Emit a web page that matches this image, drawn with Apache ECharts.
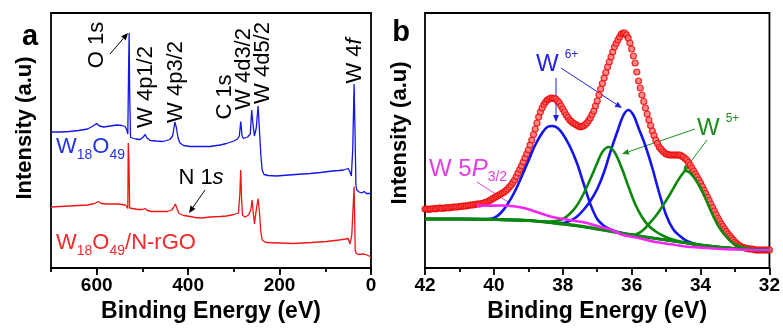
<!DOCTYPE html>
<html>
<head>
<meta charset="utf-8">
<script src="https://cdn.jsdelivr.net/npm/echarts@6/dist/echarts.min.js"></script>
<style>
  html, body { margin: 0; padding: 0; background: #fff; }
  #chart { width: 783px; height: 329px; }
</style>
</head>
<body>
<div id="chart"></div>
<script>
// ---- panel a : survey spectra, [binding energy (eV), intensity (a.u.)] ----
const surveyW18O49 = [
  [700,136],[680,136],[660,136.5],[640,137.5],[620,139],[608,142],[600,144.5],[594,142],
  [585,141],[570,142],[556,143],[545,142.5],[538,141.5],[534,138],[532,134],[530,208],
  [529,235],[528,178],[526,130.5],[515,129],[505,128.5],[498,131],[494,133.5],[490,130],
  [483,127.5],[470,127],[455,126.5],[440,128.5],[434,132],[431,140],[429,146],[426,141],
  [422,130],[418,125],[410,122.5],[396,121.5],[370,121.5],[352,121.5],[330,123],[316,124.5],
  [300,127],[292,129],[288,132],[285,146.5],[282,132],[279,129.5],[270,131],[264,134],
  [261,158],[258,143],[255,132],[251,140],[247,162],[244,138],[241,113],[238,98],
  [234,93.5],[225,92.5],[206,92],[180,93],[150,94],[133,94.5],[110,95.5],[85,97],
  [70,97.5],[60,98],[50,99.5],[46,96],[43,92],[40,118],[37,184],[35,138],
  [33,83],[31,78],[26,76],[20,75],[15,76.5],[10,74.5],[6,73],[2,74.5],[0,74]
];
const surveyComposite = [
  [700,61],[680,61.5],[660,62],[640,62.5],[620,63],[605,64.5],[596,66.5],[590,64.5],
  [575,64],[556,64],[545,63.5],[537,63],[534,61],[532,59.5],[531,125],[529.5,108],
  [528,60],[524,59.5],[510,58.5],[500,58.5],[494,59.5],[489,57.5],[480,56.5],[460,56.5],
  [445,56.5],[436,58],[432,60.5],[428,64],[424,59],[420,54.5],[410,52.5],[402,52],
  [399,53.5],[396,51.5],[385,50.5],[370,50],[352,51],[330,51.5],[316,52],[300,53.5],
  [290,55],[287,73],[285,98],[283,68],[281,52.5],[275,51],[268,53],[263,58],
  [260,68],[257,53],[255,44],[251,58],[247,69.5],[244,56],[241,36],[238,28],
  [230,25.5],[200,25],[170,24.5],[130,25.5],[97,26.5],[70,28],[55,29],[50,29.5],
  [46,24],[42,33],[37,81.5],[34.5,18],[33,15],[28,13.5],[24,13],[15,14],
  [9,13],[4,12],[0,11]
];

// ---- panel b : W 4f region, measured points every 0.05 eV from 42 eV ----
const fitStart = 42;
const fitStep = 0.05;
const fitMeasured = [
  59, 59, 58.5, 59, 59, 59.5, 59, 59.5, 60, 60,
  59.5, 60, 60, 60.5, 60, 60.5, 61, 61, 61, 61,
  61.5, 61.5, 62, 62, 62, 62.5, 63, 63, 63, 63.5,
  64, 64, 64, 64.5, 65, 65.5, 66, 67, 68, 69,
  70, 71, 72, 73, 74, 75, 76, 77.5, 79, 81,
  83, 85.5, 88, 91.5, 95, 98.5, 102, 106, 110, 114,
  118, 123, 128, 133.5, 139, 145, 151, 156, 160, 163.5,
  166, 168, 169, 170, 170, 169.5, 169, 167, 165, 162,
  159, 156, 153, 150.5, 148, 146.5, 145, 144, 143, 142,
  141, 141.5, 142, 143.5, 145, 147.5, 150, 153.5, 157, 162,
  167, 173, 179, 184.5, 190, 195.5, 201, 206, 211, 216,
  221, 224.5, 228, 231, 234, 235, 235, 233, 230, 225,
  219, 212, 205, 196, 187, 180, 173, 166.5, 160, 154,
  148, 142.5, 137, 132.5, 128, 124.5, 121, 119, 117, 115.5,
  114, 113.5, 113, 113, 113, 113, 113, 113, 113, 112,
  111, 109.5, 108, 105.5, 103, 100, 97, 94, 91, 88,
  85, 81.5, 78, 74.5, 71, 67.5, 64, 60.5, 57, 53.5,
  50, 47, 44, 41.5, 39, 36.5, 34, 32, 30, 28,
  26, 24.5, 23, 22, 21, 20.5, 20, 19.5, 19, 19,
  19, 18.5, 18, 18, 18, 18, 18, 18, 18, 18,
  18
];
const fitBackground = [
  [42,49],[41,49],[40,48.5],[39.5,48],[39,47.5],[38.5,46],[38,44],[37.5,42],[37,39],
  [36.5,36],[36,33],[35.5,30.5],[35,28],[34.5,25.5],[34,23],[33.5,21],[33,19.5],[32.5,18.5],[32,18]
];
const fitW6a = [
  [42,49],[41,49],[40.2,49],[40,50],[39.8,55],[39.6,64],[39.4,76],[39.2,91],[39,107],
  [38.8,123],[38.6,135],[38.45,141],[38.3,142],[38.15,140],[38,134],[37.8,122],[37.6,106],
  [37.4,85],[37.2,64],[37,49],[36.8,42],[36.6,38.5],[36.4,36],[36,33.2],[35.5,30.5],
  [35,28],[34.5,25.5],[34,23],[33.5,21],[33,19.5],[32.5,18.5],[32,18]
];
const fitW6b = [
  [42,49],[41,49],[40,48.5],[39,47.5],[38.5,46],[38.2,45],[38,45],[37.8,47],[37.6,51],
  [37.4,58],[37.2,67],[37,79],[36.8,96],[36.6,118],[36.4,138],[36.25,152],[36.1,158],
  [35.95,153],[35.8,140],[35.6,122],[35.4,100],[35.2,75],[35,53],[34.8,39],[34.6,32],
  [34.4,27],[34.2,24.5],[34,23],[33.5,21],[33,19.5],[32.5,18.5],[32,18]
];
const fitW5a = [
  [42,49],[41,49],[40,48.5],[39,47.5],[38.6,46.5],[38.4,46.5],[38.2,47],[38,49],[37.8,54],
  [37.6,62],[37.4,74],[37.2,89],[37,105],[36.85,116],[36.67,121],[36.5,116],[36.3,101],
  [36.1,82],[35.9,64],[35.7,51],[35.5,42],[35.3,36.5],[35.1,32.5],[34.9,29.5],[34.6,26.5],
  [34.3,24.5],[34,23],[33.5,21],[33,19.5],[32.5,18.5],[32,18]
];
const fitW5b = [
  [42,49],[41,49],[40,48.5],[39,47.5],[38,44],[37,39],[36.4,35.5],[36.1,34],[35.9,33.5],
  [35.7,37],[35.5,44],[35.3,52],[35.1,62],[34.9,73],[34.7,85],[34.55,93],[34.43,97],
  [34.3,95],[34.1,86],[33.9,73],[33.7,57],[33.5,43],[33.3,33],[33.1,26],[32.9,22],
  [32.7,20],[32.4,18.5],[32,18]
];
const fitW5p = [
  [40.5,62.5],[40.2,62.3],[39.8,62.5],[39.6,62.3],[39.2,60.5],[38.8,56.5],[38.3,51],
  [37.8,48],[37.3,45],[36.9,41],[36.6,38.5],[36.3,33.5],[35.8,30],[35.3,26],[34.8,23.5],
  [34.3,21],[33.8,20],[33.4,19],[32.9,18.5],[32.4,18],[32,18]
];

const FONT = '"Liberation Sans", Arial, Helvetica, sans-serif';
const BLUE = '#1414ee';
const RED = '#ee1515';
const GREEN = '#0c880c';
const MAGENTA = '#f426f4';

function arrow(x1, y1, x2, y2, color, head) {
  const a = Math.atan2(y2 - y1, x2 - x1);
  const len = head ? 7 : 0, half = 3;
  const bx = x2 - len * Math.cos(a), by = y2 - len * Math.sin(a);
  const out = [{
    type: 'line', silent: true,
    shape: { x1: x1, y1: y1, x2: bx, y2: by },
    style: { stroke: color, lineWidth: 1 }
  }];
  if (head) {
    out.push({
      type: 'polygon', silent: true,
      shape: { points: [[x2, y2],
        [bx - half * Math.sin(a), by + half * Math.cos(a)],
        [bx + half * Math.sin(a), by - half * Math.cos(a)]] },
      style: { fill: color }
    });
  }
  return out;
}

function vlabel(x, y, text, rich) {
  return {
    type: 'text', x: x, y: y, rotation: Math.PI / 2, silent: true,
    style: {
      text: text, fill: '#000', fontSize: 22, fontFamily: FONT,
      align: 'center', verticalAlign: 'middle', rich: rich || {}
    }
  };
}

const italic = { i: { fontSize: 22, fontStyle: 'italic', fontFamily: FONT, fill: '#000' } };

function formula(x, y, text, color, extra) {
  const rich = {
    m: { fontSize: 22, lineHeight: 30, fontFamily: FONT, fill: color },
    s: { fontSize: 14, lineHeight: 10, verticalAlign: 'bottom', fontFamily: FONT, fill: color },
    u: { fontSize: 12, lineHeight: 14, verticalAlign: 'top', fontFamily: FONT, fill: color, padding: [0, 0, 0, 6] },
    p: { fontSize: 22, lineHeight: 30, fontStyle: 'italic', fontFamily: FONT, fill: color }
  };
  Object.assign(rich, extra || {});
  return {
    type: 'text', x: x, y: y, silent: true,
    style: { text: text, fill: color, fontFamily: FONT, align: 'left', verticalAlign: 'middle', rich: rich }
  };
}

const chart = echarts.init(document.getElementById('chart'));

const tickLabel = { color: '#000', fontSize: 19, fontWeight: 'bold', fontFamily: FONT, margin: 8 };
const axisName = { color: '#000', fontSize: 23, fontWeight: 'bold', fontFamily: FONT };
const blackLine = { color: '#000', width: 1.8 };

const graphics = [
  // y axis titles and panel letters
  { type: 'text', x: 25, y: 128, rotation: Math.PI / 2, silent: true,
    style: { text: 'Intensity (a.u)', fill: '#000', fontSize: 22, fontWeight: 'bold', fontFamily: FONT, align: 'center', verticalAlign: 'middle' } },
  { type: 'text', x: 400, y: 133, rotation: Math.PI / 2, silent: true,
    style: { text: 'Intensity (a.u)', fill: '#000', fontSize: 22, fontWeight: 'bold', fontFamily: FONT, align: 'center', verticalAlign: 'middle' } },
  { type: 'text', x: 30, y: 37, silent: true,
    style: { text: 'a', fill: '#000', fontSize: 29, fontWeight: 'bold', fontFamily: FONT, align: 'center', verticalAlign: 'middle' } },
  { type: 'text', x: 401, y: 33, silent: true,
    style: { text: 'b', fill: '#000', fontSize: 29, fontWeight: 'bold', fontFamily: FONT, align: 'center', verticalAlign: 'middle' } },

  // panel a peak labels
  vlabel(97, 45, 'O 1s'),
  vlabel(146, 87, 'W 4p1/2'),
  vlabel(176, 82, 'W 4p3/2'),
  vlabel(225, 97, 'C 1s'),
  vlabel(244, 69, 'W 4d3/2'),
  vlabel(263, 63, 'W 4d5/2'),
  vlabel(355, 61, 'W 4{i|f}', italic),
  { type: 'text', x: 201, y: 178, silent: true,
    style: { text: 'N 1{i|s}', fill: '#000', fontSize: 22, fontFamily: FONT, align: 'center', verticalAlign: 'middle', rich: italic } },
  ...arrow(110, 54, 128, 33, '#000', true),
  ...arrow(205, 190, 189, 213, '#000', true),

  // series names
  formula(56, 147, '{m|W}{s|18}{m|O}{s|49}', '#2233e0'),
  formula(56, 243, '{m|W}{s|18}{m|O}{s|49}{m|/N-rGO}', '#ee2a2a'),

  // panel b labels
  formula(536, 64, '{m|W}{u|6+}', '#2424e0', { m: { fontSize: 24, lineHeight: 30, fontFamily: FONT, fill: '#2424e0' } }),
  ...arrow(556, 78, 556, 122, '#2020e0', true),
  ...arrow(561, 68, 622, 108, '#2020e0', true),
  formula(697, 128, '{m|W}{u|5+}', '#1e8c1e', { m: { fontSize: 24, lineHeight: 30, fontFamily: FONT, fill: '#1e8c1e' } }),
  ...arrow(695, 129, 622, 154, '#1e8c1e', true),
  ...arrow(707, 140, 683, 172, '#1e8c1e', true),
  formula(429, 169, '{m|W 5}{p|P}{s|3/2}', '#e23ee2', {
    m: { fontSize: 24, lineHeight: 30, fontFamily: FONT, fill: '#e23ee2' },
    p: { fontSize: 24, lineHeight: 30, fontStyle: 'italic', fontFamily: FONT, fill: '#e23ee2' },
    s: { fontSize: 14, lineHeight: 10, verticalAlign: 'bottom', fontFamily: FONT, fill: '#e23ee2' }
  }),
  ...arrow(477, 182, 508, 202, '#e23ee2', false)
];

function fitLine(data, color, width) {
  return {
    type: 'line', xAxisIndex: 2, yAxisIndex: 1, data: data,
    showSymbol: false, smooth: 0.35, silent: true,
    lineStyle: { color: color, width: width }
  };
}

chart.setOption({
  animation: false,
  grid: [
    { left: 51, right: 412, top: 13, bottom: 61, show: true, borderColor: '#000', borderWidth: 1.8 },
    { left: 425, right: 12, top: 13, bottom: 61, show: true, borderColor: '#000', borderWidth: 1.8 }
  ],
  xAxis: [
    { type: 'value', gridIndex: 0, min: 0, max: 700, interval: 200, inverse: true, position: 'bottom',
      name: 'Binding Energy (eV)', nameLocation: 'middle', nameGap: 32, nameTextStyle: axisName,
      axisLine: { show: true, lineStyle: blackLine },
      axisTick: { show: true, inside: false, length: 7, lineStyle: blackLine },
      axisLabel: Object.assign({ showMaxLabel: false }, tickLabel),
      splitLine: { show: false } },
    { type: 'value', gridIndex: 0, min: 0, max: 700, interval: 100, inverse: true, position: 'bottom',
      axisLine: { show: false }, axisLabel: { show: false },
      axisTick: { show: true, inside: false, length: 4, lineStyle: blackLine },
      splitLine: { show: false } },
    { type: 'value', gridIndex: 1, min: 32, max: 42, interval: 2, inverse: true, position: 'bottom',
      name: 'Binding Energy (eV)', nameLocation: 'middle', nameGap: 32, nameTextStyle: axisName,
      axisLine: { show: true, lineStyle: blackLine },
      axisTick: { show: true, inside: false, length: 7, lineStyle: blackLine },
      minorTick: { show: true, splitNumber: 2, length: 4, lineStyle: blackLine },
      axisLabel: tickLabel,
      splitLine: { show: false } }
  ],
  yAxis: [
    { type: 'value', gridIndex: 0, min: 0, max: 255, axisLine: { show: false }, axisTick: { show: false },
      axisLabel: { show: false }, splitLine: { show: false } },
    { type: 'value', gridIndex: 1, min: 0, max: 255, axisLine: { show: false }, axisTick: { show: false },
      axisLabel: { show: false }, splitLine: { show: false } }
  ],
  series: [
    { type: 'line', xAxisIndex: 0, yAxisIndex: 0, data: surveyComposite, showSymbol: false, silent: true,
      lineStyle: { color: RED, width: 1.3 } },
    { type: 'line', xAxisIndex: 0, yAxisIndex: 0, data: surveyW18O49, showSymbol: false, silent: true,
      lineStyle: { color: BLUE, width: 1.3 } },
    { type: 'scatter', xAxisIndex: 2, yAxisIndex: 1, silent: true, symbolSize: 6,
      data: fitMeasured.map((v, i) => [fitStart - i * fitStep, v]),
      itemStyle: { color: '#ff6a6a', borderColor: '#e80000', borderWidth: 1.2 } },
    fitLine(fitW6a, BLUE, 2.6),
    fitLine(fitW6b, BLUE, 2.6),
    fitLine(fitW5a, GREEN, 2.6),
    fitLine(fitW5b, GREEN, 2.6),
    fitLine(fitBackground, GREEN, 3.2),
    fitLine(fitW5p, MAGENTA, 2.6)
  ],
  graphic: graphics
});
</script>
</body>
</html>
